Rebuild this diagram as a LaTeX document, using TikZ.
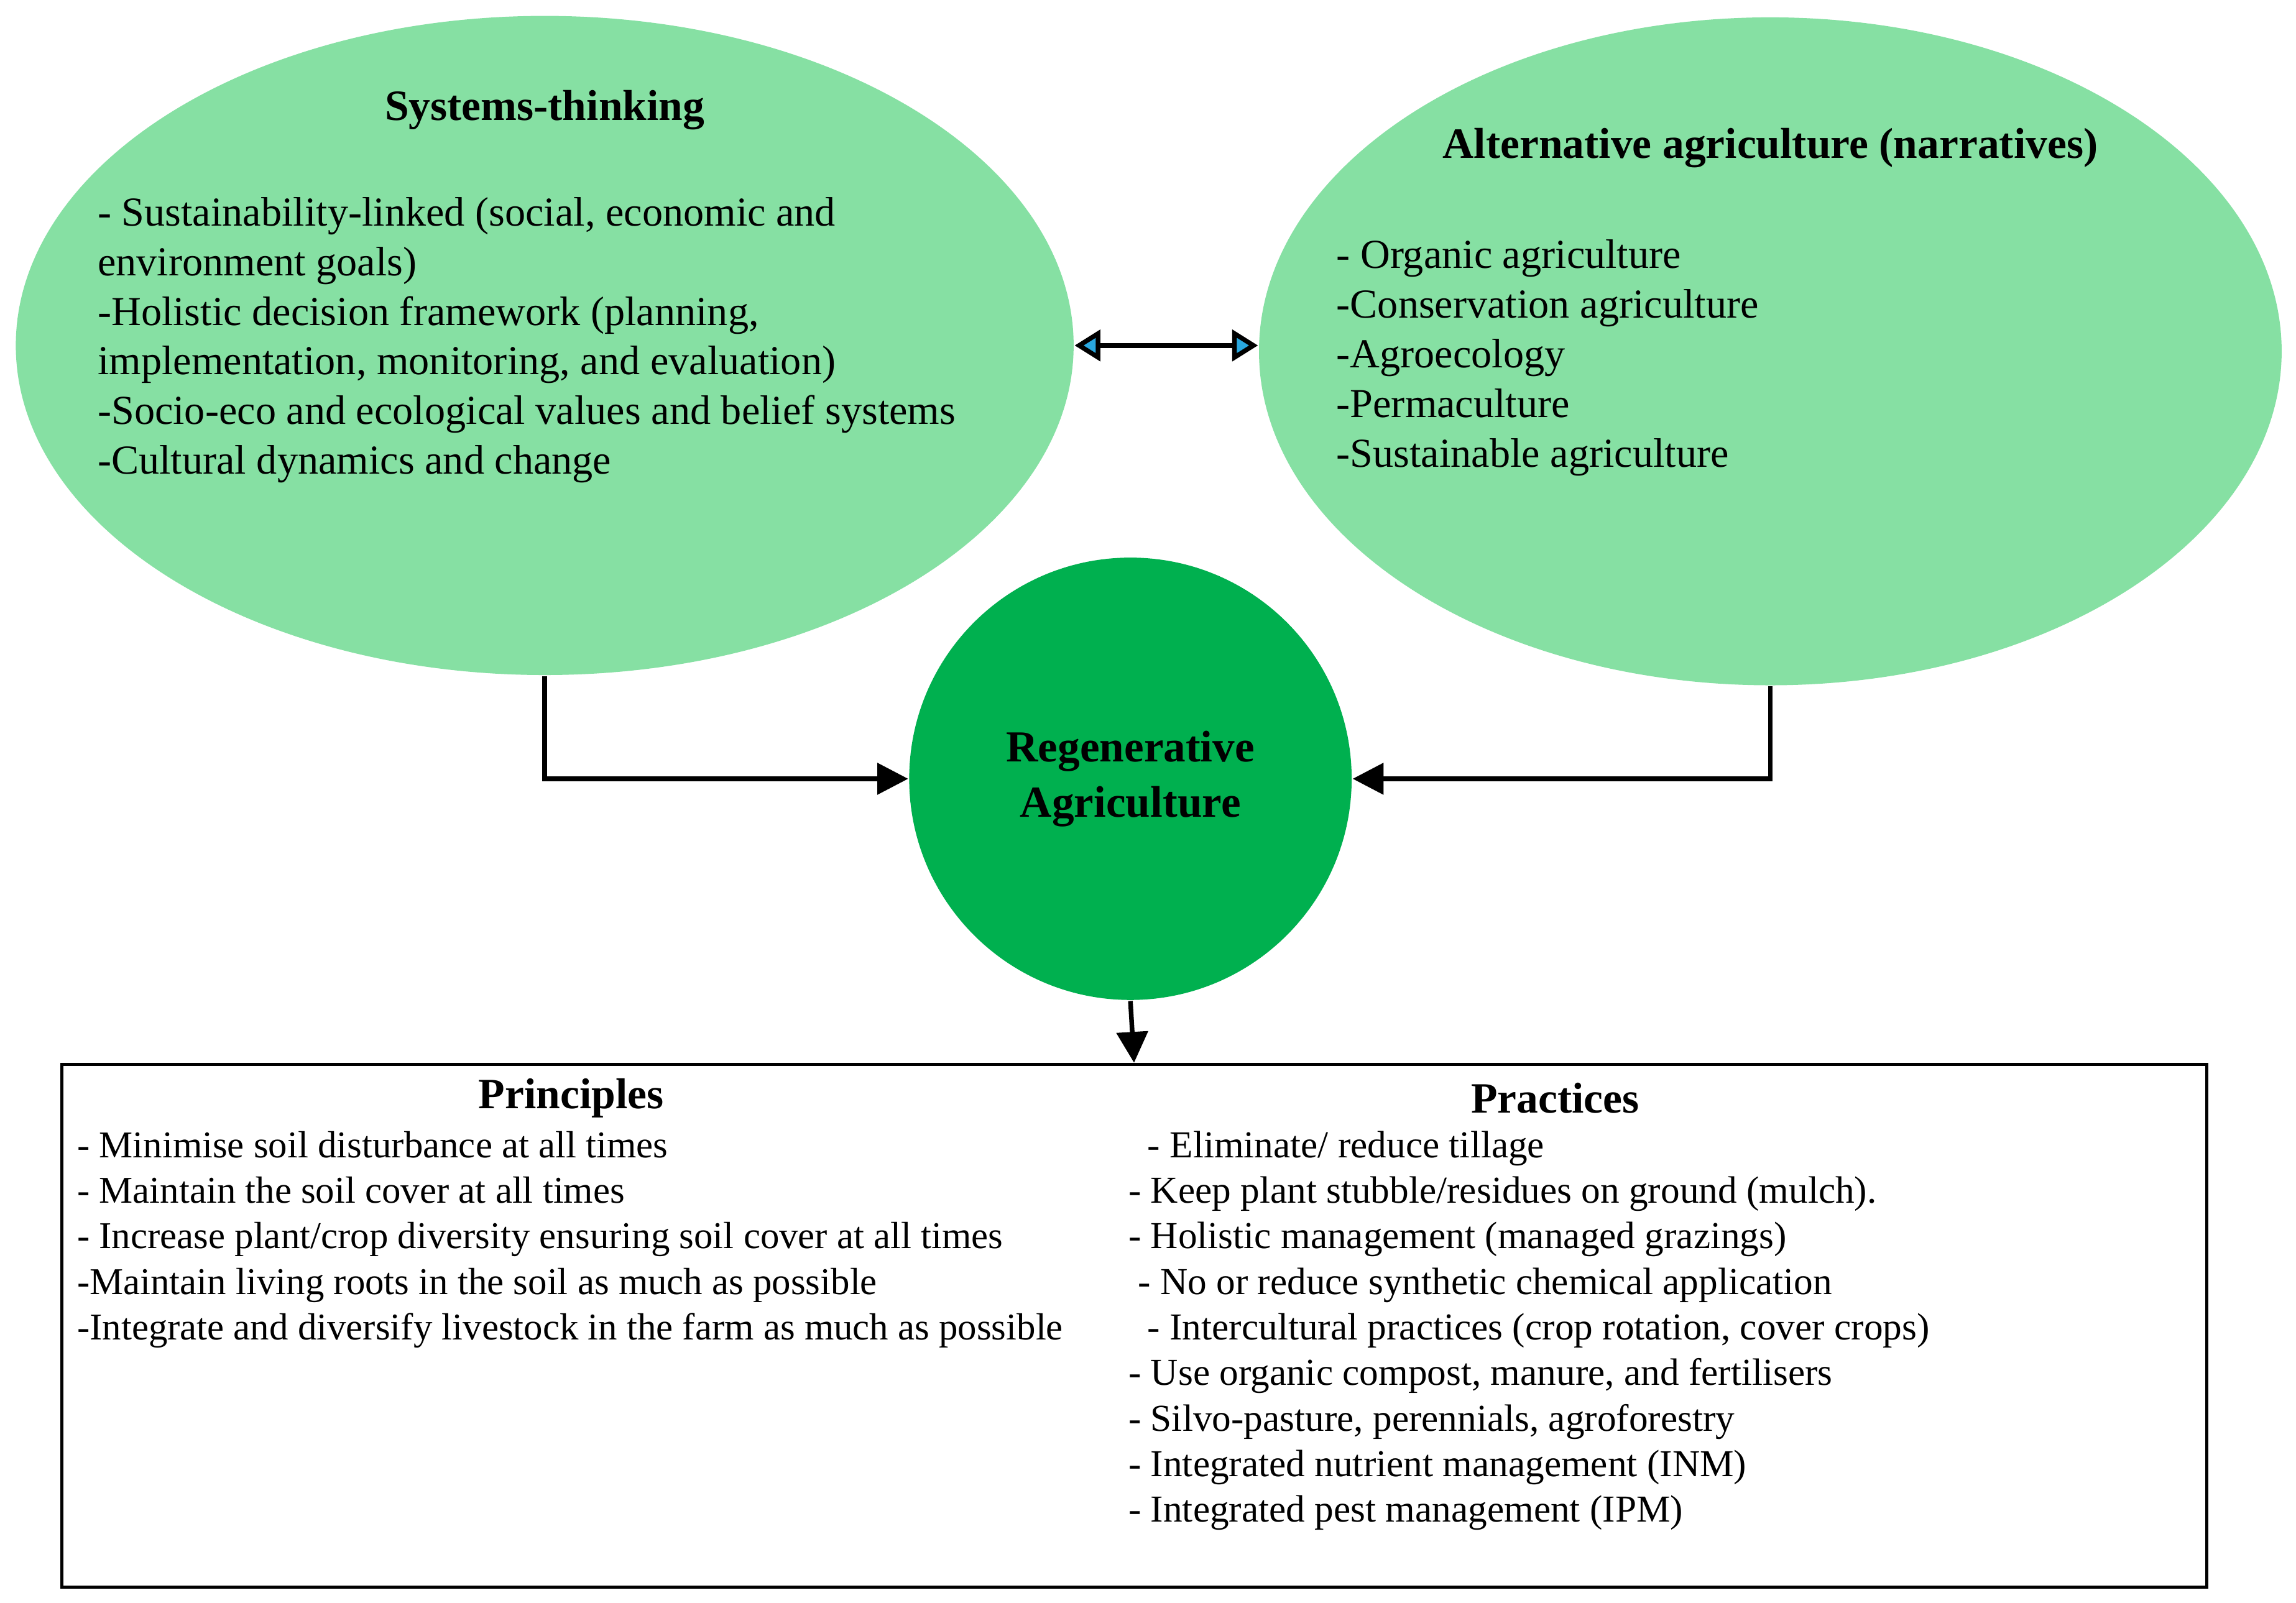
\documentclass[tikz,border=0pt]{standalone}
\usepackage{fontspec}
\setmainfont{Liberation Serif}
\usetikzlibrary{shapes.geometric,arrows.meta}
\definecolor{lightleaf}{HTML}{86E0A3}
\definecolor{darkleaf}{HTML}{00B04F}
\definecolor{tipblue}{HTML}{29A8E0}
\tikzset{
  bubble/.style={ellipse,fill=lightleaf,draw=none,inner sep=0pt},
  title/.style={font=\fontsize{8.4}{10}\selectfont\bfseries},
  items/.style={anchor=north west,align=left,inner sep=0pt,font=\fontsize{8}{9.65}\selectfont},
  link/.style={line width=0.9pt,-{Triangle[length=6pt,width=6pt]}}
}
\begin{document}
\begin{tikzpicture}[x=0.01cm,y=-0.01cm]
        % Background
        \useasboundingbox[fill=white] (0,0) rectangle (1568,1095);

        % Bubbles
        \node[bubble,minimum width=7.22cm,minimum height=4.5cm] (systems) at (372,236) {};
        \node[bubble,minimum width=6.98cm,minimum height=4.56cm] (alt) at (1209,240) {};
        \node[circle,fill=darkleaf,minimum size=3.02cm,inner sep=0pt,align=center,
              font=\fontsize{8.6}{10.8}\selectfont\bfseries] (regen) at (772,532)
              {Regenerative\\Agriculture};
        \node[draw,line width=0.6pt,minimum width=14.64cm,minimum height=3.57cm,anchor=north west,inner sep=0pt] (box) at (41,726) {};

        % Labels
        \node[title] (systitle) at (372,75) {Systems-thinking};
        \node[items] (syslist) at (66,134) { - Sustainability-linked (social, economic and\\environment goals)\\-Holistic decision framework (planning,\\implementation, monitoring, and evaluation)\\-Socio-eco and ecological values and belief systems\\-Cultural dynamics and change};
        \node[title] (alttitle) at (1209,101) {Alternative agriculture (narratives)};
        \node[items] (altlist) at (912,163) {- Organic agriculture\\-Conservation agriculture\\-Agroecology\\-Permaculture\\-Sustainable agriculture};
        \node[title] (princ) at (390,750) {Principles};
        \node[items,font=\fontsize{7.35}{8.85}\selectfont] (princlist) at (52,772) { -  Minimise soil disturbance at all times\\ - Maintain the soil cover at all times\\ - Increase plant/crop diversity ensuring soil cover at all times\\-Maintain living roots in the soil as much as possible\\-Integrate and diversify livestock in the farm as much as possible};
        \node[title] (pract) at (1062,750) {Practices};
        \node[items,font=\fontsize{7.4}{8.85}\selectfont] (practlist) at (770,772) {\ \ - Eliminate/ reduce tillage\\- Keep plant stubble/residues on ground (mulch).\\- Holistic management (managed grazings)\\\ - No or reduce synthetic chemical application\\\ \ - Intercultural practices (crop rotation, cover crops)\\- Use organic compost, manure, and  fertilisers\\- Silvo-pasture, perennials, agroforestry\\- Integrated nutrient management (INM)\\- Integrated pest management (IPM)};

        % Connectors
        \draw[line width=0.9pt,{Triangle[length=5pt,width=6pt,fill=tipblue]}-{Triangle[length=5pt,width=6pt,fill=tipblue]}]
            (systems.east) -- (systems.east -| alt.west);
        \draw[link] (systems.south) |- (regen.west);
        \draw[link] (alt.south) |- (regen.east);
        \draw[link] (regen.south) -- (box.north);

    \end{tikzpicture}
\end{document}
